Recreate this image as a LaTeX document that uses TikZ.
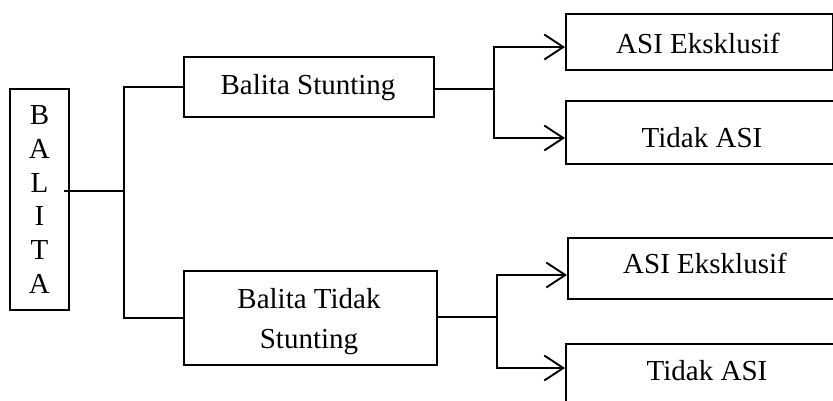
\documentclass[tikz,border=0pt]{standalone}
\usepackage{fontspec}
\setmainfont{Liberation Serif}
\usetikzlibrary{arrows.meta,calc}
\begin{document}
\begin{tikzpicture}[x=1pt,y=-1pt,line width=1.9pt,
  box/.style={draw,line width=1.9pt,inner sep=0pt,anchor=north west},
  lbl/.style={anchor=base,inner sep=0pt,font=\fontsize{29}{34}\selectfont},
  arr/.style={-{Straight Barb[length=19pt,width=25pt]}}]
\useasboundingbox (0,0) rectangle (833,400);
\clip (0,0) rectangle (833,400);
% boxes
\node[box,minimum width=59pt,minimum height=221pt,align=center,
      font=\fontsize{29}{33.8}\selectfont] (balita) at (9,88) {B\\A\\L\\I\\T\\A};
\node[box,minimum width=250pt,minimum height=60pt] (bs) at (183,56) {};
\node[box,minimum width=253pt,minimum height=94pt] (bts) at (183,270) {};
\node[box,minimum width=267pt,minimum height=56pt] (a1) at (565,13) {};
\node[box,minimum width=290pt,minimum height=63pt] (t1) at (565,100) {};
\node[box,minimum width=290pt,minimum height=61pt] (a2) at (567,237) {};
\node[box,minimum width=290pt,minimum height=90pt] (t2) at (565,343) {};
% labels
\node[lbl] (l1) at (308,94) {Balita Stunting};
\node[lbl] (l2a) at (309,308) {Balita Tidak};
\node[lbl] (l2b) at (309,348) {Stunting};
\node[lbl] (l3) at (698,53) {ASI Eksklusif};
\node[lbl] (l4) at (702,147) {Tidak ASI};
\node[lbl] (l5) at (705,273) {ASI Eksklusif};
\node[lbl] (l6) at (707,380) {Tidak ASI};
% junction coordinates
\coordinate (b0) at (64,191);
\coordinate (j1) at (124,191);
\coordinate (j2) at (494,89);
\coordinate (j2t) at (494,47);
\coordinate (j2b) at (494,138);
\coordinate (j3) at (497,317);
\coordinate (j3t) at (497,275);
\coordinate (j3b) at (497,368);
% connectors
\draw (b0) -- (j1);
\draw (bs.west) -- (bs.west -| j1) -- (bts.west -| j1) -- (bts.west);
\draw (bs.east |- j2) -- (j2);
\draw[arr] (j2) -- (j2t) -- (a1.west |- j2t);
\draw[arr] (j2) -- (j2b) -- (t1.west |- j2b);
\draw (bts.east |- j3) -- (j3);
\draw[arr] (j3) -- (j3t) -- (a2.west |- j3t);
\draw[arr] (j3) -- (j3b) -- (t2.west |- j3b);
\end{tikzpicture}
\end{document}
